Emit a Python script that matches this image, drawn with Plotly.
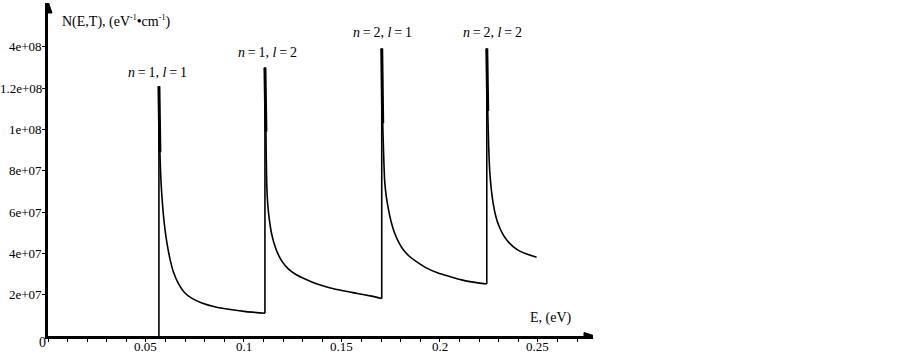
import plotly.graph_objects as go

UNIT = 1e7  # N values below are in units of 1e7 eV^-1 cm^-1

# ---- data ----
seg1_E = [0.0566, 0.0566, 0.0568, 0.0571, 0.0576, 0.0581, 0.0588, 0.0597, 0.0608, 0.0622,
          0.0640, 0.0665, 0.0695, 0.0735, 0.0785, 0.0850, 0.0930, 0.1010, 0.1080, 0.1107]
seg1_N = [0.0, 12.1, 10.2, 8.9, 7.6, 6.8, 5.95, 5.15, 4.45, 3.75,
          3.1, 2.55, 2.12, 1.82, 1.6, 1.42, 1.28, 1.18, 1.12, 1.10]

seg2_E = [0.1107, 0.1107, 0.1109, 0.1112, 0.1116, 0.1122, 0.1130, 0.1140, 0.1153, 0.1170,
          0.1195, 0.1226, 0.1265, 0.1315, 0.1370, 0.1432, 0.1500, 0.1579, 0.1650, 0.1703]
seg2_N = [1.10, 13.0, 11.2, 9.9, 7.4, 6.3, 5.6, 5.0, 4.5, 4.05,
          3.6, 3.25, 2.98, 2.75, 2.53, 2.35, 2.2, 2.06, 1.93, 1.82]

seg3_E = [0.1703, 0.1703, 0.1705, 0.1708, 0.1712, 0.1718, 0.1727, 0.1738, 0.1752, 0.1770,
          0.1792, 0.1815, 0.1845, 0.1880, 0.1930, 0.1990, 0.2050, 0.2110, 0.2170, 0.2239]
seg3_N = [1.82, 13.93, 11.6, 10.3, 9.0, 7.5, 6.7, 6.1, 5.5, 4.95,
          4.5, 4.15, 3.85, 3.6, 3.3, 3.05, 2.88, 2.72, 2.61, 2.52]

seg4_E = [0.2239, 0.2239, 0.2241, 0.2244, 0.2248, 0.2254, 0.2262, 0.2272, 0.2285, 0.2300,
          0.2320, 0.2345, 0.2375, 0.2410, 0.2450, 0.2493]
seg4_N = [2.52, 13.93, 12.0, 10.9, 9.4, 8.0, 7.1, 6.4, 5.8, 5.35,
          4.95, 4.6, 4.32, 4.1, 3.95, 3.82]

x_tick_vals = [0.05, 0.1, 0.15, 0.2, 0.25]
x_tick_text = ["0.05", "0.1", "0.15", "0.2", "0.25"]
y_tick_vals = [2, 4, 6, 8, 10, 12, 14]
y_tick_text = ["2e+07", "4e+07", "6e+07", "8e+07", "1e+08", "1.2e+08", "4e+08"]

peak_labels = ["<i>n</i>\u2009=\u20091, <i>l</i>\u2009=\u20091",
               "<i>n</i>\u2009=\u20091, <i>l</i>\u2009=\u20092",
               "<i>n</i>\u2009=\u20092, <i>l</i>\u2009=\u20091",
               "<i>n</i>\u2009=\u20092, <i>l</i>\u2009=\u20092"]
peak_label_E = [0.0559, 0.1120, 0.1706, 0.2268]
peak_label_N = [12.78, 13.75, 14.72, 14.72]

x_max = 0.2781
y_max = 16.13

FONT = "Liberation Serif"

segments = [(seg1_E, seg1_N), (seg2_E, seg2_N), (seg3_E, seg3_N), (seg4_E, seg4_N)]

fig = go.Figure()
for E, N in segments:
    # vertical jump at the band edge
    fig.add_trace(go.Scatter(x=E[0:2], y=[v * UNIT for v in N[0:2]], mode="lines",
                             line=dict(color="black", width=1.6), hoverinfo="skip"))
    # decaying part
    fig.add_trace(go.Scatter(x=E[1:], y=[v * UNIT for v in N[1:]], mode="lines",
                             line=dict(color="black", width=1.6, shape="spline", smoothing=0.6),
                             hoverinfo="skip"))
    # thicker tip of the spike
    fig.add_trace(go.Scatter(x=E[1:4], y=[v * UNIT for v in N[1:4]], mode="lines",
                             line=dict(color="black", width=3.0), hoverinfo="skip"))

annotations = []
for txt, xe, yn in zip(peak_labels, peak_label_E, peak_label_N):
    annotations.append(dict(x=xe, y=yn * UNIT, xref="x", yref="y", text=txt, showarrow=False,
                            font=dict(family=FONT, size=14, color="black"),
                            xanchor="center", yanchor="middle"))
# tick labels
for v, t in zip(x_tick_vals, x_tick_text):
    annotations.append(dict(x=v, y=0, xref="x", yref="y", text=t, showarrow=False,
                            yshift=-1, font=dict(family=FONT, size=13, color="black"),
                            xanchor="center", yanchor="top"))
for v, t in zip(y_tick_vals, y_tick_text):
    annotations.append(dict(x=0, y=v * UNIT, xref="x", yref="y", text=t, showarrow=False,
                            xshift=-4, font=dict(family=FONT, size=13, color="black"),
                            xanchor="right", yanchor="middle"))
annotations.append(dict(x=0.0061, y=15.25 * UNIT, xref="x", yref="y",
                        text="N(E,T), (eV<sup><span style='font-size:8px'>-1</span></sup>•cm"
                             "<sup><span style='font-size:8px'>-1</span></sup>)",
                        showarrow=False,
                        font=dict(family=FONT, size=14, color="black"),
                        xanchor="left", yanchor="middle"))
annotations.append(dict(x=0.2449, y=0.87 * UNIT, xref="x", yref="y",
                        text="E, (eV)", showarrow=False,
                        font=dict(family=FONT, size=14, color="black"),
                        xanchor="left", yanchor="middle"))
annotations.append(dict(x=0, y=0, xref="x", yref="y", text="0", showarrow=False,
                        xshift=-6, yshift=-6,
                        font=dict(family=FONT, size=14, color="black"),
                        xanchor="center", yanchor="middle"))

shapes = [
    dict(type="path", xref="x", yref="y", xsizemode="pixel", ysizemode="pixel",
         xanchor=x_max, yanchor=0, path="M2,0 L-9,3.5 L-9,-3.5 Z",
         fillcolor="black", line=dict(color="black", width=1)),
    dict(type="path", xref="x", yref="y", xsizemode="pixel", ysizemode="pixel",
         xanchor=0, yanchor=y_max * UNIT, path="M0,2 L-4,-10 L4,-10 Z",
         fillcolor="black", line=dict(color="black", width=1)),
]

fig.update_layout(
    width=903, height=353,
    margin=dict(l=48, r=310, t=3, b=17, autoexpand=False),
    paper_bgcolor="white", plot_bgcolor="white",
    showlegend=False,
    annotations=annotations,
    shapes=shapes,
    font=dict(family=FONT, size=13, color="black"),
)
fig.update_xaxes(range=[0, x_max], showgrid=False, zeroline=False, automargin=False,
                 showline=True, linecolor="black", linewidth=3,
                 tickmode="array", tickvals=x_tick_vals, showticklabels=False,
                 ticks="outside", ticklen=3, tickwidth=1, tickcolor="black",
                 minor=dict(tickmode="linear", tick0=0, dtick=0.01, ticks="outside",
                            ticklen=3, tickwidth=1, tickcolor="black", showgrid=False))
fig.update_yaxes(range=[0, y_max * UNIT], showgrid=False, zeroline=False, automargin=False,
                 showline=True, linecolor="black", linewidth=3,
                 tickmode="array", tickvals=[v * UNIT for v in y_tick_vals], showticklabels=False,
                 ticks="outside", ticklen=3, tickwidth=1, tickcolor="black")

fig.write_html("out.html", config={"displayModeBar": False},
               post_script="document.body.style.margin='0';")
